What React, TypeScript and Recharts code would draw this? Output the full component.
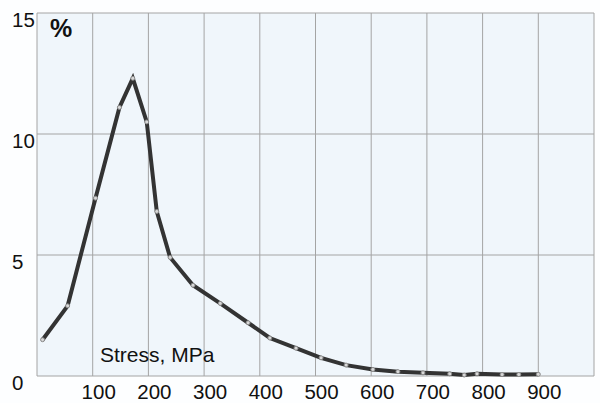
import { CartesianGrid, Line, LineChart, XAxis, YAxis } from "recharts";

const stress = [10, 55, 105, 148, 172, 197, 215, 239, 280, 329, 379, 418, 465, 510, 555, 603, 648, 693, 741, 767, 790, 835, 865, 900];
const share = [1.5, 2.9, 7.35, 11.1, 12.3, 10.5, 6.8, 4.9, 3.75, 3.0, 2.2, 1.57, 1.15, 0.75, 0.45, 0.27, 0.18, 0.13, 0.09, 0.04, 0.09, 0.06, 0.06, 0.07];
const xTicks = [0, 100, 200, 300, 400, 500, 600, 700, 800, 900, 1000];
const yTicks = [0, 5, 10, 15];

const data = stress.map((s, i) => ({ stress: s, pct: share[i] }));

const font = "'Liberation Sans', Arial, sans-serif";

function XTick({ x, y, payload }: any) {
  const v = payload.value;
  if (v === 0 || v === 1000) return null;
  return (
    <text x={x + 6} y={y + 23} textAnchor="middle" fontSize={20.5} fontFamily={font} fill="#111">
      {v}
    </text>
  );
}

function YTick({ y, payload }: any) {
  return (
    <text x={12} y={y + 14} textAnchor="start" fontSize={20.5} fontFamily={font} fill="#111">
      {payload.value}
    </text>
  );
}

export default function App() {
  return (
    <div style={{ position: "absolute", left: 0, top: 0, width: 600, height: 403, background: "#fdfeff" }}>
      <LineChart width={600} height={403} data={data} margin={{ top: 13, right: 6, left: 0, bottom: 0 }}>
        <CartesianGrid stroke="#a4a4a4" fill="#f0f6fb" />
        <XAxis
          dataKey="stress"
          type="number"
          domain={[0, 1000]}
          ticks={xTicks}
          height={27}
          axisLine={false}
          tickLine={false}
          tickSize={0}
          tickMargin={0}
          interval={0}
          tick={<XTick />}
        />
        <YAxis
          type="number"
          domain={[0, 15]}
          ticks={yTicks}
          width={37}
          axisLine={false}
          tickLine={false}
          interval={0}
          tick={<YTick />}
        />
        <Line
          type="linear"
          dataKey="pct"
          stroke="#333"
          strokeWidth={4}
          dot={{ r: 2, fill: "#d8d8d8", stroke: "#888", strokeWidth: 1 }}
          isAnimationActive={false}
        />
      </LineChart>
      <div style={{ position: "absolute", left: 50, top: 14, fontFamily: font, fontWeight: "bold", fontSize: 25, color: "#111" }}>
        %
      </div>
      <div style={{ position: "absolute", left: 100, top: 343, fontFamily: font, fontSize: 21, color: "#111", whiteSpace: "nowrap" }}>
        Stress, MPa
      </div>
    </div>
  );
}
